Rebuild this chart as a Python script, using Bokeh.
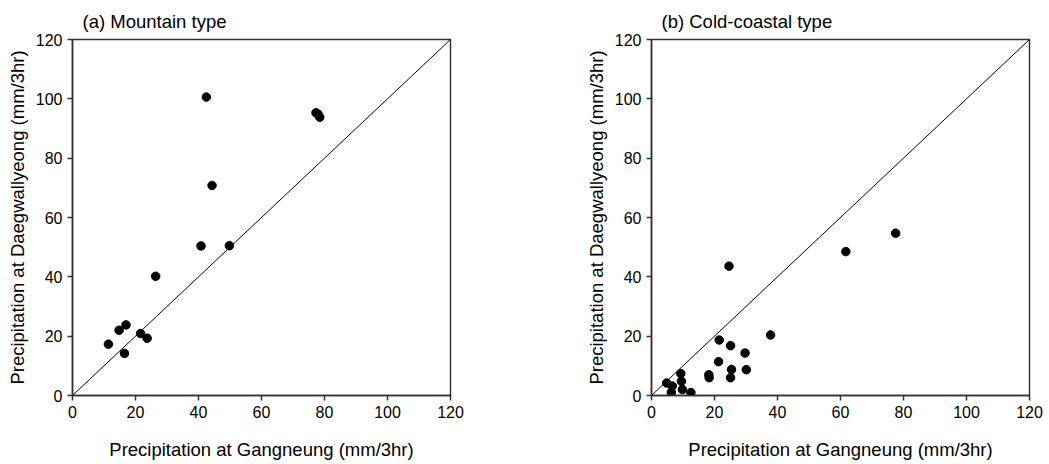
from bokeh.plotting import figure
from bokeh.layouts import row
from bokeh.models import Range1d, FixedTicker
from bokeh.embed import file_html
from bokeh.resources import INLINE

# (a) Mountain type
mountain_gangneung = [42.5, 77.3, 77.9, 78.5, 44.3, 40.8, 49.8, 26.4, 11.4, 14.8, 17.0, 16.5, 21.6, 23.7]
mountain_daegwallyeong = [100.6, 95.3, 94.9, 93.8, 70.8, 50.4, 50.5, 40.2, 17.3, 22.0, 23.8, 14.2, 20.9, 19.3]

# (b) Cold-coastal type
coastal_gangneung = [24.6, 61.7, 77.5, 37.8, 21.5, 25.1, 29.7, 21.3, 30.1, 25.4, 25.1, 18.2, 18.3,
                     4.8, 6.6, 6.3, 9.3, 9.5, 9.8, 12.5]
coastal_daegwallyeong = [43.6, 48.5, 54.7, 20.4, 18.7, 16.8, 14.3, 11.4, 8.7, 8.8, 6.0, 7.0, 6.0,
                         4.2, 3.2, 1.1, 7.4, 4.8, 2.0, 1.0]

one_to_one = [0, 120]
tick_values = [0, 20, 40, 60, 80, 100, 120]

titles = ["(a) Mountain type", "(b) Cold-coastal type"]
x_label = "Precipitation at Gangneung (mm/3hr)"
y_label = "Precipitation at Daegwallyeong (mm/3hr)"

FONT = "Liberation Sans"
AX = "#333333"


def make(title, xs, ys, border_left, border_right):
    p = figure(output_backend="svg", toolbar_location=None,
               frame_width=378, frame_height=356,
               min_border_left=border_left, min_border_right=border_right,
               min_border_top=39, min_border_bottom=69,
               x_range=Range1d(0, 120), y_range=Range1d(0, 120),
               background_fill_color="white", border_fill_color="white")
    p.title.text = title
    p.title.text_font = FONT
    p.title.text_font_size = "18.5px"
    p.title.text_font_style = "normal"
    p.title.text_color = "black"
    p.title.align = "left"
    p.title.offset = 10
    p.title.standoff = 16
    p.grid.visible = False
    p.outline_line_color = AX
    p.outline_line_width = 1.5
    p.outline_line_alpha = 1
    for ax in (p.xaxis[0], p.yaxis[0]):
        ax.ticker = FixedTicker(ticks=tick_values)
        ax.minor_tick_line_color = None
        ax.major_tick_in = 0
        ax.major_tick_out = 5
        ax.major_tick_line_color = AX
        ax.major_tick_line_width = 1.5
        ax.axis_line_color = AX
        ax.axis_line_width = 1.5
        ax.major_label_text_font = FONT
        ax.major_label_text_font_size = "16px"
        ax.major_label_text_color = "black"
        ax.axis_label_text_font = FONT
        ax.axis_label_text_font_size = "18.5px"
        ax.axis_label_text_font_style = "normal"
        ax.axis_label_text_color = "black"
        ax.major_label_standoff = 5
    p.xaxis.axis_label = x_label
    p.yaxis.axis_label = y_label
    p.xaxis.axis_label_standoff = 18
    p.yaxis.axis_label_standoff = 5
    p.line(one_to_one, one_to_one, line_color="black", line_width=1)
    p.scatter(xs, ys, size=8.5, fill_color="black", line_color="black")
    return p


p1 = make(titles[0], mountain_gangneung, mountain_daegwallyeong, 72, 75)
p2 = make(titles[1], coastal_gangneung, coastal_daegwallyeong, 126, 20)

layout = row(p1, p2)
open("out.html", "w").write(file_html(layout, INLINE))
